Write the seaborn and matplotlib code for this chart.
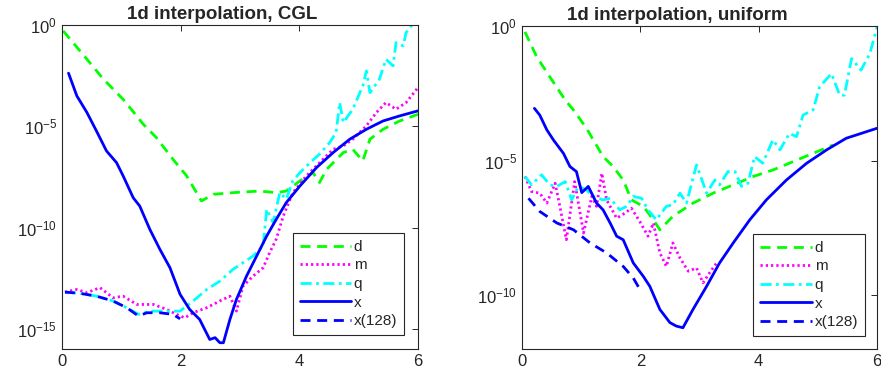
import numpy as np
import pandas as pd
import matplotlib
matplotlib.use("Agg")
import matplotlib.pyplot as plt
import seaborn as sns
from matplotlib.ticker import LogFormatterMathtext, NullLocator

# values are log10 of the error
# ---- left panel: CGL ----
cgl_d_x = [0.02, 0.42, 0.70, 1.03, 1.37, 1.59, 1.87, 2.10, 2.35, 2.55, 2.88, 3.33, 3.61, 3.78,
           4.01, 4.23, 4.34, 4.46, 4.74, 4.90, 5.07, 5.19, 5.41, 5.69, 6.00]
cgl_d_y = [-0.29, -1.69, -2.68, -3.67, -4.90, -5.56, -6.63, -7.45, -8.69, -8.36, -8.28, -8.20, -8.28, -8.20,
           -7.70, -7.29, -7.78, -7.13, -6.30, -6.14, -6.71, -5.64, -5.15, -4.74, -4.41]

cgl_m_x = [0.05, 0.25, 0.42, 0.64, 0.86, 1.03, 1.26, 1.54, 1.76, 1.93, 2.07, 2.21, 2.44, 2.66, 2.83,
           2.94, 3.05, 3.22, 3.39, 3.50, 3.61, 3.73, 3.89, 4.12, 4.34, 4.57, 4.74, 4.90, 5.13, 5.30,
           5.46, 5.63, 5.80, 6.00]
cgl_m_y = [-13.19, -13.06, -13.22, -12.97, -13.47, -13.39, -13.80, -13.80, -14.04, -14.29, -14.46,
           -14.21, -13.96, -13.63, -13.39, -14.13, -12.90, -12.40, -11.99, -11.24, -10.58, -9.43,
           -8.28, -7.45, -6.80, -6.14, -5.97, -5.64, -4.98, -4.32, -3.83, -4.16, -3.83, -3.09]

cgl_q_x = [0.05, 0.30, 0.58, 0.86, 1.09, 1.29, 1.48, 1.76, 1.99, 2.21, 2.44, 2.66, 2.88, 3.05, 3.22,
           3.39, 3.45, 3.56, 3.67, 3.78, 3.89, 4.01, 4.18, 4.34, 4.51, 4.62, 4.68, 4.74, 4.90, 5.07,
           5.13, 5.19, 5.35, 5.46, 5.58, 5.63, 5.75, 5.80, 5.89, 5.97]
cgl_q_y = [-13.19, -13.25, -13.39, -13.63, -13.96, -14.29, -14.13, -14.13, -14.13, -13.63, -13.06,
           -12.65, -12.07, -11.74, -11.41, -10.91, -9.10, -9.76, -8.28, -8.60, -7.70, -7.29, -6.80,
           -6.38, -5.81, -5.31, -3.83, -4.82, -4.16, -3.01, -2.27, -3.34, -2.68, -1.69, -2.02, -0.87,
           -1.03, -0.37, -0.03, 0.05]

cgl_x_x = [0.11, 0.25, 0.42, 0.58, 0.75, 0.92, 1.03, 1.20, 1.31, 1.48, 1.65, 1.82, 1.99, 2.15, 2.32,
           2.49, 2.58, 2.66, 2.72, 2.83, 2.94, 3.11, 3.28, 3.45, 3.61, 3.78, 4.01, 4.29, 4.57, 4.85,
           5.13, 5.41, 5.69, 6.00]
cgl_x_y = [-2.38, -3.50, -4.32, -5.23, -6.22, -6.80, -7.45, -8.53, -8.94, -10.09, -11.08, -11.99,
           -13.30, -14.04, -14.54, -15.53, -15.44, -15.69, -15.69, -14.54, -13.55, -12.40, -11.41,
           -10.42, -9.60, -8.77, -7.95, -7.04, -6.30, -5.64, -5.15, -4.74, -4.49, -4.24]

cgl_x128_x = [0.05, 0.30, 0.58, 0.86, 1.09, 1.29, 1.43, 1.65, 1.87, 1.99]
cgl_x128_y = [-13.19, -13.25, -13.39, -13.63, -13.96, -14.37, -14.21, -14.21, -14.29, -14.51]

# ---- right panel: uniform ----
uni_d_x = [0.05, 0.25, 0.47, 0.73, 0.87, 1.09, 1.37, 1.54, 1.71, 1.85, 2.05, 2.22, 2.33, 2.55, 2.89,
           3.23, 3.57, 3.91, 4.24, 4.58, 4.92, 5.26]
uni_d_y = [-0.22, -1.15, -1.89, -2.75, -3.12, -3.80, -4.85, -5.22, -5.72, -6.46, -6.70, -7.20, -7.57,
           -7.07, -6.58, -6.21, -5.90, -5.59, -5.35, -5.04, -4.73, -4.42]

uni_m_x = [0.05, 0.16, 0.30, 0.42, 0.56, 0.64, 0.75, 0.89, 1.04, 1.18, 1.26, 1.35, 1.43, 1.60, 1.74,
           1.85, 1.99, 2.13, 2.22, 2.33, 2.44, 2.55, 2.67, 2.81, 2.95, 3.06, 3.17, 3.31]
uni_m_y = [-5.59, -6.15, -6.21, -6.58, -5.84, -6.70, -7.94, -5.78, -7.69, -6.33, -6.70, -5.47, -6.46,
           -7.14, -6.95, -6.77, -7.26, -7.81, -7.32, -8.43, -8.93, -8.06, -8.62, -9.11, -8.99, -9.54,
           -9.17, -8.74]

uni_q_x = [0.05, 0.16, 0.33, 0.47, 0.59, 0.73, 0.84, 0.95, 1.09, 1.20, 1.37, 1.49, 1.65, 1.77, 1.88,
           2.02, 2.13, 2.27, 2.44, 2.55, 2.67, 2.78, 2.95, 3.12, 3.26, 3.34, 3.48, 3.60, 3.71, 3.82,
           3.93, 4.07, 4.24, 4.36, 4.52, 4.64, 4.75, 4.92, 5.03, 5.23, 5.37, 5.45, 5.57, 5.73, 5.88,
           6.00]
uni_q_y = [-5.59, -5.90, -5.53, -5.90, -5.96, -5.78, -6.46, -5.96, -6.09, -6.33, -6.46, -6.40, -6.83,
           -6.70, -6.33, -6.40, -6.83, -7.20, -6.70, -6.64, -6.21, -6.58, -5.16, -6.21, -5.72, -5.90,
           -5.41, -5.41, -5.96, -5.84, -4.85, -5.10, -4.23, -4.60, -3.99, -4.11, -3.31, -3.12, -2.26,
           -1.77, -2.57, -2.57, -1.21, -1.64, -1.02, -0.04]

uni_x_x = [0.21, 0.30, 0.42, 0.53, 0.70, 0.81, 0.92, 1.01, 1.12, 1.26, 1.37, 1.49, 1.60, 1.71, 1.88,
           2.05, 2.16, 2.33, 2.50, 2.61, 2.72, 2.89, 3.12, 3.34, 3.57, 3.85, 4.13, 4.47, 4.81, 5.15,
           5.48, 6.00]
uni_x_y = [-3.06, -3.31, -3.86, -4.23, -4.73, -5.22, -5.41, -6.19, -5.96, -6.58, -6.83, -7.32, -7.81,
           -7.94, -8.80, -9.30, -9.67, -10.53, -11.02, -11.15, -11.21, -10.53, -9.67, -8.80, -8.06,
           -7.20, -6.46, -5.72, -5.10, -4.60, -4.17, -3.80]

uni_x128_x = [0.11, 0.30, 0.59, 0.87, 1.15, 1.43, 1.71, 1.88, 2.01]
uni_x128_y = [-6.40, -6.89, -7.32, -7.57, -8.06, -8.43, -8.93, -9.36, -9.85]

labels = ["d", "m", "q", "x", "x(128)"]
colors = ["#00ff00", "#ff00ff", "#00ffff", "#0000ff", "#0000ff"]
styles = [(0, (3.6, 2.4)), (0, (0.8, 1.1)), (0, (4.0, 1.6, 1.0, 1.6)), "-", (0, (3.6, 2.4))]

sns.set_style("white")
plt.rcParams["font.family"] = ["Liberation Sans", "DejaVu Sans"]

fig = plt.figure(figsize=(8.81, 3.82), dpi=100)
ax1 = fig.add_axes([62 / 881, 1 - 349 / 382, 356 / 881, 324 / 382])
ax2 = fig.add_axes([522 / 881, 1 - 349 / 382, 355 / 881, 323 / 382])

panels = [
    (ax1, "1d interpolation, CGL",
     [(cgl_d_x, cgl_d_y), (cgl_m_x, cgl_m_y), (cgl_q_x, cgl_q_y), (cgl_x_x, cgl_x_y), (cgl_x128_x, cgl_x128_y)],
     (1e-16, 1e0), [1e0, 1e-5, 1e-10, 1e-15], (0.961, 0.043), 0.449),
    (ax2, "1d interpolation, uniform",
     [(uni_d_x, uni_d_y), (uni_m_x, uni_m_y), (uni_q_x, uni_q_y), (uni_x_x, uni_x_y), (uni_x128_x, uni_x128_y)],
     (1e-12, 1e0), [1e0, 1e-5, 1e-10], (0.966, 0.040), 0.437),
]

for ax, title, series, ylim, yticks, leg_anchor, title_x in panels:
    for (xs, ys), lab, col, ls in zip(series, labels, colors, styles):
        df = pd.DataFrame({"x": xs, "err": 10.0 ** np.array(ys)})
        sns.lineplot(data=df, x="x", y="err", ax=ax, color=col, linestyle=ls,
                     linewidth=2.0, label=lab, sort=False)
    ax.set_yscale("log")
    ax.set_xlim(0, 6)
    ax.set_ylim(*ylim)
    ax.set_xticks([0, 2, 4, 6])
    ax.set_yticks(yticks)
    ax.yaxis.set_major_formatter(LogFormatterMathtext())
    ax.yaxis.set_minor_locator(NullLocator())
    ax.set_xlabel("")
    ax.set_ylabel("")
    ax.set_title(title, fontsize=13.5, fontweight="bold", pad=4, x=title_x)
    ax.tick_params(direction="in", length=4, width=0.7, colors="#262626",
                   labelsize=12, top=True, right=True, which="major")
    for sp in ax.spines.values():
        sp.set_color("#262626")
        sp.set_linewidth(0.8)
    leg = ax.legend(loc="lower right", bbox_to_anchor=leg_anchor, borderaxespad=0,
                    fontsize=11, handlelength=3.4, labelspacing=0.3, handletextpad=0.15,
                    borderpad=0.45, fancybox=False, framealpha=1, edgecolor="#262626")
    leg.get_frame().set_linewidth(0.8)

fig.savefig("out.png", dpi=100)
